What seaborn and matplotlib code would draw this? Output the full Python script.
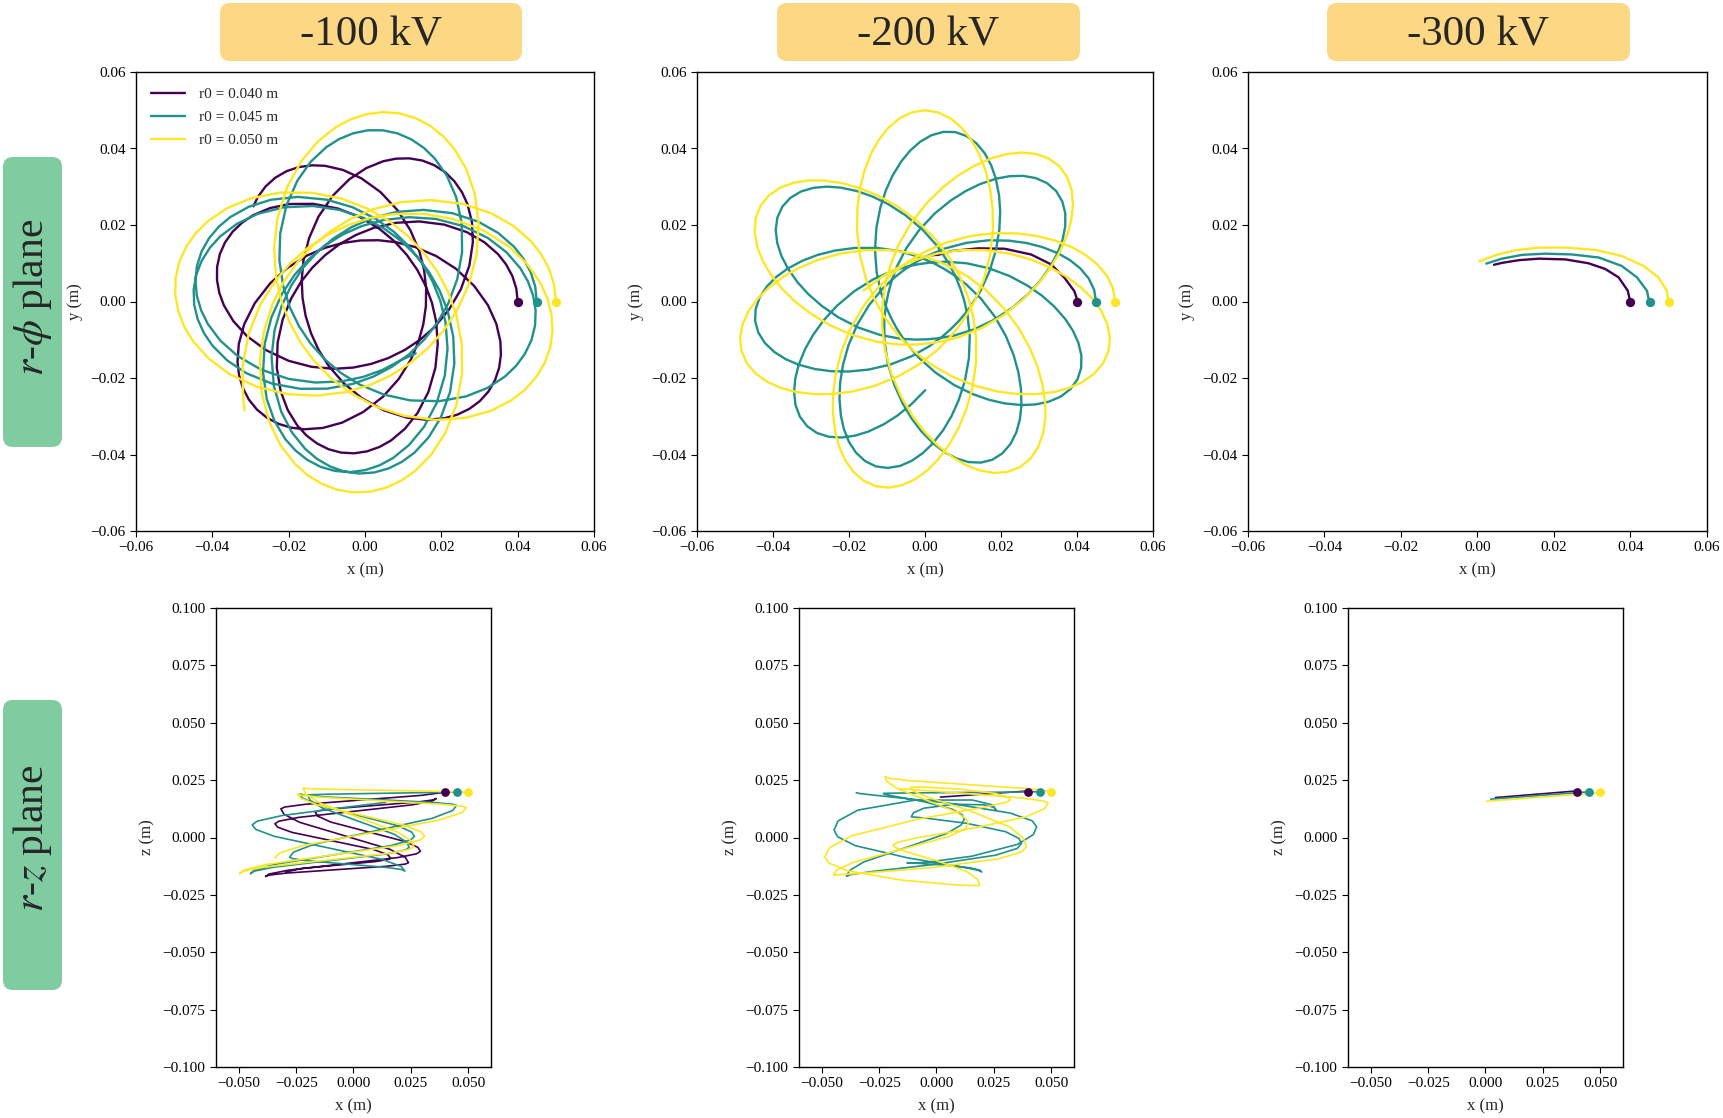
import numpy as np
import matplotlib
matplotlib.use("Agg")
import matplotlib.pyplot as plt
import seaborn as sns
from matplotlib.patches import FancyBboxPatch
from matplotlib.projections.polar import PolarTransform

# ---------------- data (mm; polar lobes: angle deg, radius mm) ----------------
COLORS = ["#440154", "#21918c", "#fde725"]
LABELS = ["r0 = 0.040 m", "r0 = 0.045 m", "r0 = 0.050 m"]
R0 = [40.0, 45.0, 50.0]
Z0 = 20.0
HEADERS = ["-100 kV", "-200 kV", "-300 kV"]

# -100 kV : one lobe (apocentre -> apocentre) for each r0, lobe start angles, end point
P1_LOBE_T = [0, 4.9, 9.79, 14.69, 19.59, 26.44, 34.28, 44.07, 55.82, 68.56, 83.25, 97.94, 113.61,
             130.5, 147.39, 163.06, 177.75, 192.44, 205.18, 216.93, 226.72, 234.56, 241.41, 246.31,
             251.21, 256.1]
P1_LOBE_R = [40, 39.79, 39.18, 38.22, 36.98, 34.88, 32.23, 28.9, 25.3, 22.1, 19.38, 17.54, 16.4,
             16.0, 16.4, 17.54, 19.38, 22.1, 25.3, 28.9, 32.23, 34.88, 36.98, 38.22, 39.18, 39.79]
P1_APO = [0, 261, 522, 783, 1044, 1305, 1566]
P1_END = (1579.6, 38.4)

T1_LOBE_T = [0, 5.03, 10.06, 15.08, 20.11, 27.15, 35.2, 45.25, 57.32, 70.39, 85.48, 100.56, 116.65,
             134, 151.35, 167.44, 182.52, 197.61, 210.68, 222.75, 232.8, 240.85, 247.89, 252.92,
             257.94, 262.97]
T1_LOBE_R = [45, 44.77, 44.08, 43.0, 41.6, 39.24, 36.26, 32.52, 28.46, 24.87, 21.8, 19.73, 18.45,
             18.0, 18.45, 19.73, 21.8, 24.87, 28.46, 32.52, 36.26, 39.24, 41.6, 43.0, 44.08, 44.77]
T1_APO = [0, 268, 536, 804, 1072, 1340, 1608]
T1_END = (1754.4, 19.0)

Y1_LOBE_T = [0, 5, 10, 15, 20, 27, 35, 45, 57, 70, 85, 100, 116, 133.25, 150.5, 166.5, 181.5, 196.5,
             209.5, 221.5, 231.5, 239.5, 246.5, 251.5, 256.5, 261.5]
Y1_LOBE_R = [50, 49.74, 48.98, 47.78, 46.22, 43.6, 40.29, 36.13, 31.62, 27.63, 24.22, 21.92, 20.5,
             20.0, 20.5, 21.92, 24.22, 27.63, 31.62, 36.13, 40.29, 43.6, 46.22, 47.78, 48.98, 49.74]
Y1_APO = [0, 266.5, 533, 799.5, 1066]
Y1_END = (1302, 42.5)

# -200 kV
P2_X = [40.2, 39.3, 36.7, 33.2, 27.9, 20.9, 14.0, 7.0, 3.5, 1.7]
P2_Y = [0.0, 2.7, 6.2, 9.7, 12.3, 13.8, 13.9, 13.2, 12.2, 12.1]

T2_LOBE_T = [0, 3.97, 7.95, 11.92, 15.89, 19.87, 24.83, 29.8, 35.76, 43.71, 54.63, 69.53, 89.4, 109.27,
             126.65, 144.03, 163.9, 183.77, 198.67, 209.59, 217.54, 223.5, 228.47, 233.43, 237.41,
             241.38, 245.35, 249.33]
T2_LOBE_R = [45, 44.61, 43.51, 41.79, 39.62, 37.16, 33.95, 30.77, 27.23, 23.16, 18.8, 14.78, 11.72, 10.27,
             9.9, 10.27, 11.72, 14.78, 18.8, 23.16, 27.23, 30.77, 33.95, 37.16, 39.62,
             41.79, 43.51, 44.61]
T2_APO = [0, 253.3, 506.6, 759.9, 1013.2, 1266.5, 1519.8, 1773.1, 2026.4]
T2_END = (2070.1, 23.2)

Y2_LOBE_T = [0, 4, 8, 12, 16, 20, 25, 30, 36, 44, 55, 70, 90, 110, 127.5, 145, 165, 185, 200, 211,
             219, 225, 230, 235, 239, 243, 247, 251]
Y2_LOBE_R = [50, 49.57, 48.34, 46.43, 44.02, 41.29, 37.72, 34.19, 30.26, 25.73, 20.89, 16.42, 13.02,
             11.41, 11.0, 11.41, 13.02, 16.42, 20.89, 25.73, 30.26, 34.19, 37.72, 41.29, 44.02, 46.43,
             48.34, 49.57]
Y2_APO = [0, 255, 510, 765, 1020, 1275, 1530, 1785]
Y2_END = (1970, 16.4)

# -300 kV (x, y) arcs
P3_X = [39.9, 39.3, 36.9, 33.4, 29.0, 23.0, 16.0, 10.8, 6.4, 4.3]
P3_Y = [0.0, 2.8, 6.3, 8.5, 10.0, 11.0, 11.2, 10.8, 10.1, 9.6]
T3_X = [44.9, 44.3, 41.7, 37.7, 31.7, 24.7, 17.7, 11.7, 6.4, 2.3]
T3_Y = [0.0, 2.8, 6.3, 9.3, 11.5, 12.3, 12.5, 12.2, 11.2, 9.9]
Y3_X = [49.9, 49.5, 47.3, 43.4, 37.7, 30.8, 23.0, 16.0, 9.9, 4.7, 0.5]
Y3_Y = [0.0, 2.8, 6.3, 9.3, 11.9, 13.5, 14.1, 14.1, 13.4, 12.1, 10.5]

# r-z plane (x, z) in mm
P4_X = [40, 38.24, 29.5, 4.15, -21.2, -29.94,
        -31.7, -30.34, -23.55, -3.85, 15.85, 22.63,
        24, 22.47, 14.86, -7.2, -29.26, -36.87,
        -38.4, -36.74, -28.5, -4.6, 19.3, 27.54,
        29.2, 28.08, 22.48, 6.25, -9.98, -15.58,
        -16.7, -15.41, -8.97, 9.7, 28.37, 34.81,
        36.1, 34.38, 25.79, 0.9, -23.99, -32.58,
        -34.3, -33.06, -26.91, -9.05, 8.81, 14.96,
        16.2, 15.08, 9.52, -6.6, -22.72, -29.4]
P4_Z = [20.3, 19.52, 18.35, 16.4, 14.45, 13.28,
        12.5, 10.15, 6.63, 0.75, -5.13, -8.65,
        -11, -11.6, -12.5, -14, -15.5, -16.4,
        -17, -15.9, -14.25, -11.5, -8.75, -7.1,
        -6, -4.3, -1.75, 2.5, 6.75, 9.3,
        11, 11.6, 12.5, 14, 15.5, 16.4,
        17, 15.9, 14.25, 11.5, 8.75, 7.1,
        6, 4.5, 2.25, -1.5, -5.25, -7.5,
        -9, -9.6, -10.5, -12, -13.5, -15]
T4_X = [45, 43.41, 35.48, 12.5, -10.48, -18.41,
        -20, -18.91, -13.51, 2.15, 17.81, 23.21,
        24.3, 22.6, 14.15, -10.35, -34.85, -43.3,
        -45, -43.25, -34.52, -9.2, 16.12, 24.85,
        26.6, 25.38, 19.28, 1.6, -16.08, -22.18,
        -23.4, -21.72, -13.39, 10.8, 34.99, 43.32,
        45, 43.21, 34.33, 8.55, -17.23, -26.11,
        -27.9, -26.67, -20.54, -2.75, 15.04, 21.17,
        22.4, 20.77, 12.65, -10.9, -34.45, -42.57,
        -44.2, -42.01, -31.14, 0.4, 14]
T4_Z = [20, 19.85, 19.63, 19.25, 18.88, 18.65,
        18.5, 16.22, 12.8, 7.1, 1.4, -2.02,
        -4.3, -5.45, -7.18, -10.05, -12.93, -14.65,
        -15.8, -14.17, -11.73, -7.65, -3.58, -1.13,
        0.5, 2.35, 5.13, 9.75, 14.38, 17.15,
        19, 18.5, 17.75, 16.5, 15.25, 14.5,
        14, 11.74, 8.35, 2.7, -2.95, -6.34,
        -8.6, -9.2, -10.1, -11.6, -13.1, -14.0,
        -14.6, -12.59, -9.58, -4.55, 0.48, 3.49,
        5.5, 7.13, 9.58, 13.65, 15.3]
Y4_X = [50, 48.24, 39.46, 14, -11.46, -20.24,
        -22, -20.82, -14.93, 2.15, 19.23, 25.12,
        26.3, 24.44, 15.16, -11.75, -38.66, -47.94,
        -49.8, -47.82, -37.97, -9.4, 19.17, 29.02,
        31, 29.64, 22.87, 3.25, -16.37, -23.14,
        -24.5, -22.69, -13.7, 12.4, 38.5, 47.49,
        49.3, 47.25, 37.06, 7.5, -22.06, -32.25, -34.3]
Y4_Z = [19.6, 19.79, 20.08, 20.55, 21.03, 21.31,
        21.5, 18.95, 15.13, 8.75, 2.38, -1.45,
        -4, -5.18, -6.95, -9.9, -12.85, -14.62,
        -15.8, -14.17, -11.73, -7.65, -3.58, -1.13,
        0.5, 2.35, 5.13, 9.75, 14.38, 17.15,
        19, 18.4, 17.5, 16, 14.5, 13.6,
        13, 10.8, 7.5, 2, -3.5, -6.8, -9]

P5_X = [40.2, 39.3, 36.7, 33.2, 27.9, 20.9, 14.0, 7.0, 3.5, 1.7]
P5_Z = [20.3, 20.24, 20.05, 19.81, 19.44, 18.95, 18.47, 17.98, 17.73, 17.6]
T5_X = [45, 43.33, 35.02, 10.9, -13.21, -21.53,
        -23.2, -22.34, -18.03, -5.55, 6.93, 11.24,
        12.1, 10.84, 4.58, -13.6, -31.77, -38.04,
        -39.3, -37.43, -28.12, -1.1, 25.91, 35.23,
        37.1, 35.92, 30.06, 13.05, -3.96, -9.82,
        -11, -10.09, -5.58, 7.5, 20.58, 25.09,
        26, 24.27, 15.65, -9.35, -34.35, -42.97,
        -44.7, -43.12, -35.27, -12.5, 10.27, 18.12,
        19.7, 18.9, 14.93, 3.4, -8.13, -12.1,
        -12.9, -11.51, -4.61, 15.4, 35.41, 42.31,
        43.7, 41.77, 32.18, 4.35, -23.48, -33.07, -35]
T5_Z = [20, 19.92, 19.8, 19.6, 19.4, 19.28,
        19.2, 18.8, 17.9, 15.6, 12.3, 9.84,
        8, 5.51, 1.78, -4.45, -10.68, -14.41,
        -16.9, -16.19, -14.83, -11.75, -7.68, -4.75,
        -2.6, -0.36, 2.55, 6.2, 8.35, 8.92,
        9, 10.74, 12.75, 14.5, 14.25, 13.14,
        12, 14.25, 16.33, 16.3, 11.93, 7.21,
        3.2, 0.3, -3.6, -8.9, -12.7, -14.26,
        -15, -14.24, -13.25, -12, -11.25, -11.04,
        -11, -11.23, -10.83, -8.15, -2.98, 1.33,
        4.7, 7.26, 10.65, 15.1, 18.05, 19.1, 19.5]
Y5_X = [50, 48.22, 39.39, 13.75, -11.89, -20.72,
        -22.5, -21.61, -17.17, -4.3, 8.57, 13.01,
        13.9, 12.46, 5.29, -15.5, -36.29, -43.46,
        -44.9, -42.84, -32.59, -2.85, 26.89, 37.14,
        39.2, 37.96, 31.79, 13.9, -3.99, -10.16,
        -11.4, -10.33, -5.02, 10.4, 25.82, 31.13,
        32.2, 30.22, 20.36, -8.25, -36.86, -46.72,
        -48.7, -47.04, -38.8, -14.9, 9.0, 17.24,
        18.9, 17.97, 13.37, 0, -13.37, -17.97,
        -18.9, -17.24, -9.0, 14.9, 38.8, 47.04,
        48.7, 46.73, 36.9, 8.4, -16.2]
Y5_Z = [19.6, 20.29, 21.33, 23.05, 24.78, 25.81,
        26.5, 24.45, 21.38, 16.25, 11.13, 8.05,
        6, 3.76, 0.4, -5.2, -10.8, -14.16,
        -16.4, -16.24, -15.55, -13.2, -9.35, -6.32,
        -4, -0.34, 4.7, 11.9, 17.6, 20.3,
        21.8, 21.97, 21.93, 21.05, 19.18, 17.57,
        16.3, 15.27, 13.13, 7.95, 0.78, -4.49,
        -8.4, -11.08, -14.5, -18.6, -20.7, -21.0,
        -20.8, -18.33, -14.93, -10.05, -6.18, -4.33,
        -3.3, -2.19, -0.23, 3.85, 8.93, 12.45,
        15, 15.9, 17.25, 19.5, 21.3]

P6_X = P3_X
P6_Z = [20.3, 20.25, 20.05, 19.77, 19.41, 18.92, 18.35, 17.93, 17.57, 17.4]
T6_X = T3_X
T6_Z = [19.9, 19.85, 19.66, 19.36, 18.91, 18.38, 17.86, 17.41, 17.01, 16.7]
Y6_X = Y3_X
Y6_Z = [19.5, 19.47, 19.3, 19.01, 18.59, 18.07, 17.49, 16.96, 16.5, 16.11, 15.8]

# ---------------- helpers ----------------
POLAR = PolarTransform(apply_theta_transforms=False)


def rosette(lobe_t, lobe_r, apos, end):
    th, rr = [], []
    for a in apos:
        for t, r in zip(lobe_t, lobe_r):
            if a + t < end[0]:
                th.append(a + t)
                rr.append(r)
    th.append(end[0])
    rr.append(end[1])
    pts = POLAR.transform(np.column_stack([np.radians(th), rr]))
    return pts[:, 0] / 1000.0, pts[:, 1] / 1000.0


def mm(v):
    return np.asarray(v, dtype=float) / 1000.0


# ---------------- style ----------------
sns.set_theme(style="ticks")
plt.rcParams["font.family"] = ["Liberation Serif", "DejaVu Serif"]
plt.rcParams["mathtext.fontset"] = "stix"
plt.rcParams["axes.edgecolor"] = "black"
plt.rcParams["axes.linewidth"] = 1.0
plt.rcParams["xtick.color"] = "black"
plt.rcParams["ytick.color"] = "black"
plt.rcParams["lines.solid_joinstyle"] = "round"

W, H = 1724, 1118
fig = plt.figure(figsize=(W / 100, H / 100), dpi=100)


def add_ax(x0, y0, x1, y1):
    return fig.add_axes([x0 / W, 1 - y1 / H, (x1 - x0) / W, (y1 - y0) / H])


top_boxes = [(136, 72, 594, 531), (697, 72, 1153, 531), (1248, 72, 1707, 531)]
bot_boxes = [(216, 608, 491, 1067), (799, 608, 1074, 1067), (1348, 608, 1623, 1067)]

top_data = [
    [rosette(P1_LOBE_T, P1_LOBE_R, P1_APO, P1_END),
     rosette(T1_LOBE_T, T1_LOBE_R, T1_APO, T1_END),
     rosette(Y1_LOBE_T, Y1_LOBE_R, Y1_APO, Y1_END)],
    [(mm(P2_X), mm(P2_Y)),
     rosette(T2_LOBE_T, T2_LOBE_R, T2_APO, T2_END),
     rosette(Y2_LOBE_T, Y2_LOBE_R, Y2_APO, Y2_END)],
    [(mm(P3_X), mm(P3_Y)), (mm(T3_X), mm(T3_Y)), (mm(Y3_X), mm(Y3_Y))],
]
bot_data = [
    [(mm(P4_X), mm(P4_Z)), (mm(T4_X), mm(T4_Z)), (mm(Y4_X), mm(Y4_Z))],
    [(mm(P5_X), mm(P5_Z)), (mm(T5_X), mm(T5_Z)), (mm(Y5_X), mm(Y5_Z))],
    [(mm(P6_X), mm(P6_Z)), (mm(T6_X), mm(T6_Z)), (mm(Y6_X), mm(Y6_Z))],
]

for col in range(3):
    ax = add_ax(*top_boxes[col])
    for i in range(3):
        x, y = top_data[col][i]
        sns.lineplot(x=x, y=y, sort=False, estimator=None, color=COLORS[i], lw=1.7, ax=ax,
                     label=LABELS[i] if col == 0 else None, legend=False)
        sns.scatterplot(x=[R0[i] / 1000], y=[0.0], color=COLORS[i], s=45, linewidth=0, ax=ax,
                        zorder=5, legend=False)
    ax.set_xlim(-0.06, 0.06)
    ax.set_ylim(-0.06, 0.06)
    ax.set_xticks([-0.06, -0.04, -0.02, 0.0, 0.02, 0.04, 0.06])
    ax.set_yticks([-0.06, -0.04, -0.02, 0.0, 0.02, 0.04, 0.06])
    ax.set_xlabel("x (m)", fontsize=12, labelpad=6)
    ax.set_ylabel("y (m)", fontsize=12, labelpad=5)
    ax.tick_params(labelsize=11, length=4, width=0.8, direction="out")
    for s in ax.spines.values():
        s.set_visible(True)
    if col == 0:
        ax.legend(loc="upper left", frameon=False, fontsize=11, handlelength=2.2,
                  handletextpad=0.9, labelspacing=0.62, borderaxespad=0.6)

    bx = add_ax(*bot_boxes[col])
    for i in range(3):
        x, z = bot_data[col][i]
        sns.lineplot(x=x, y=z, sort=False, estimator=None, color=COLORS[i], lw=1.2, ax=bx, legend=False)
        sns.scatterplot(x=[R0[i] / 1000], y=[Z0 / 1000], color=COLORS[i], s=40, linewidth=0, ax=bx,
                        zorder=5, legend=False)
    bx.set_xlim(-0.06, 0.06)
    bx.set_ylim(-0.1, 0.1)
    bx.set_xticks([-0.05, -0.025, 0.0, 0.025, 0.05])
    bx.set_yticks([-0.1, -0.075, -0.05, -0.025, 0.0, 0.025, 0.05, 0.075, 0.1])
    bx.set_xlabel("x (m)", fontsize=12, labelpad=6)
    bx.set_ylabel("z (m)", fontsize=12, labelpad=5)
    bx.tick_params(labelsize=11, length=4, width=0.8, direction="out")
    for s in bx.spines.values():
        s.set_visible(True)

# ---------------- header / row boxes ----------------
head_x = [(220, 522), (777, 1080), (1327, 1630)]
for (x0, x1), txt in zip(head_x, HEADERS):
    box = FancyBboxPatch((x0 / 100, (H - 61) / 100), (x1 - x0) / 100, 0.58,
                         boxstyle="round,pad=0,rounding_size=0.1", transform=fig.dpi_scale_trans,
                         fc="#fcd784", ec="none")
    fig.add_artist(box)
    fig.text((x0 + x1) / 2 / W, 1 - 35 / H, txt, ha="center", va="center", fontsize=31)

row_y = [(157, 447), (700, 990)]
row_txt = [r"$r$-$\phi$ plane", r"$r$-$z$ plane"]
row_cy = [297, 838]
for (y0, y1), txt, cy in zip(row_y, row_txt, row_cy):
    box = FancyBboxPatch((3 / 100, (H - y1) / 100), 0.59, (y1 - y0) / 100,
                         boxstyle="round,pad=0,rounding_size=0.1", transform=fig.dpi_scale_trans,
                         fc="#7ecca0", ec="none")
    fig.add_artist(box)
    fig.text(33 / W, 1 - cy / H, txt, ha="center", va="center", rotation=90, fontsize=30)

fig.savefig("out.png", dpi=100)
